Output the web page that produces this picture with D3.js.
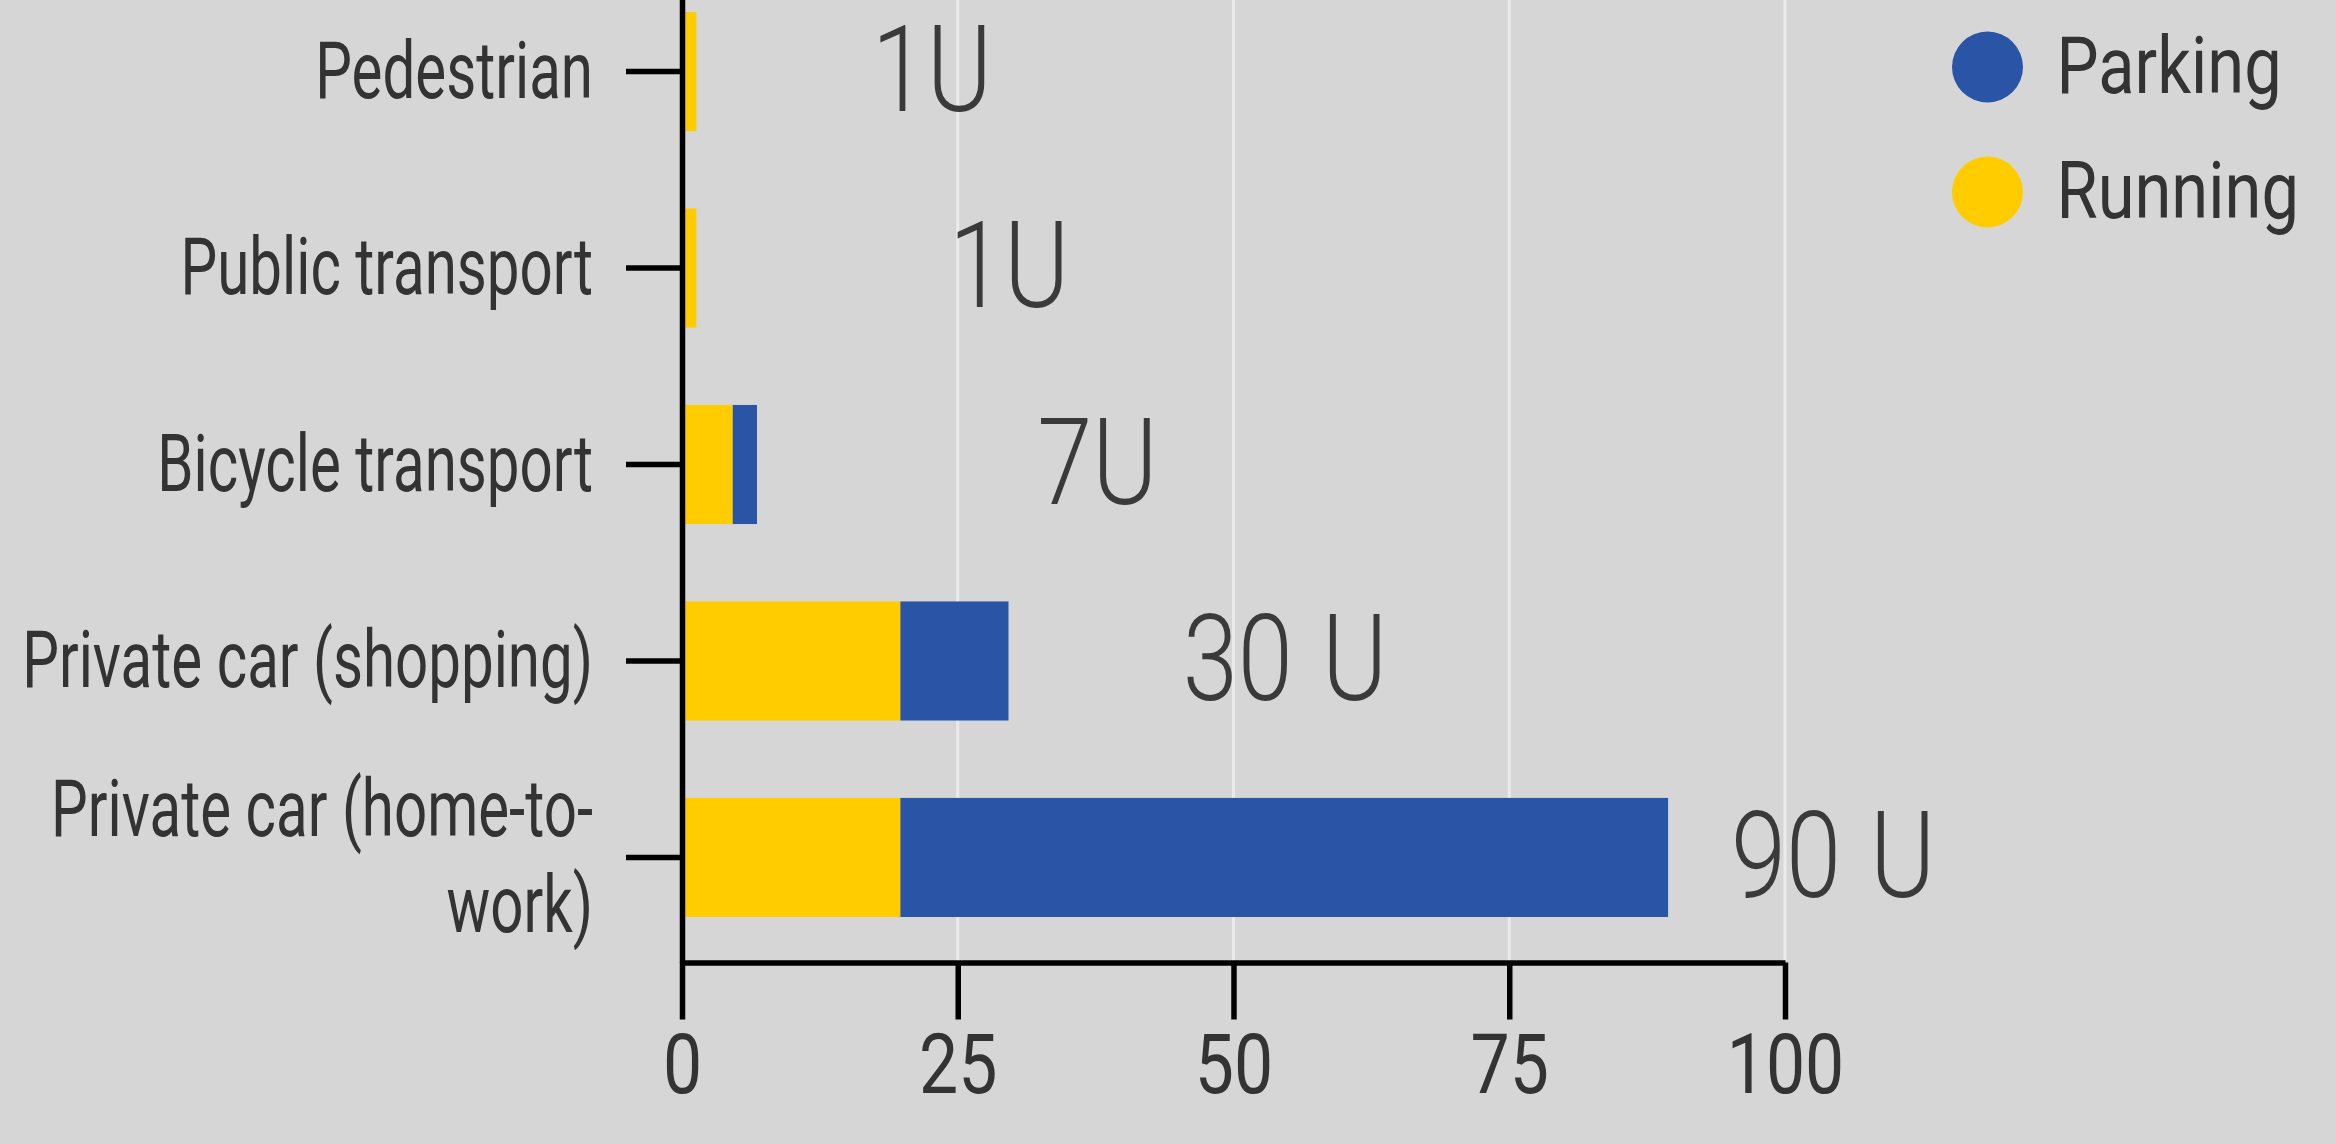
<!doctype html>
<html>
<head>
    <meta charset="UTF-8">
    <script src="https://d3js.org/d3.v7.min.js"></script>
    <title></title>
</head>

<body>

<style>
    body { margin: 0; background: #d6d6d6; }
    text { font-family: Roboto, "Liberation Sans", sans-serif; fill: #333333; }
</style>

<div id="graph"></div>

<script>
    // data
    var categories = ["Pedestrian", "Public transport", "Bicycle transport",
                      "Private car (shopping)", "Private car (home-to-work)"];
    var running = [1.3, 1.3, 4.6, 19.8, 19.8];
    var parking = [0, 0, 2.2, 9.8, 69.6];
    var totalLabels = ["1U", "1U", "7U", "30 U", "90 U"];
    var labelAt = [17.2, 24.2, 32.2, 45.4, 95.1];   // where the total label starts, in axis units
    var xTicks = [0, 25, 50, 75, 100];
    var seriesNames = ["Parking", "Running"];

    var w = 2336, h = 1144;
    var colors = {Parking: "#2a54a5", Running: "#ffcc00"};

    var vis = d3.select("#graph")
            .append("svg")
            .attr("width", w)
            .attr("height", h)
            .style("background-color", "#d6d6d6");

    var x = d3.scaleLinear().domain([0, 100]).range([682, 1785]);
    var y = d3.scaleBand().domain(categories)
            .range([-33.5, 962.5])
            .paddingInner(0.394)
            .paddingOuter(0.2316);

    // squeeze text horizontally to mimic a condensed face
    function squeeze(sel, sx) {
        sel.each(function() {
            var t = d3.select(this);
            var x0 = +t.attr("x") || 0;
            var y0 = +t.attr("y") || 0;
            t.attr("x", 0).attr("y", 0)
             .attr("transform", "translate(" + x0 + "," + y0 + ") scale(" + sx + ",1)");
        });
    }

    // grid
    vis.append("g").selectAll("line")
            .data(xTicks.filter(function(d) { return d > 0; }))
            .enter().append("line")
            .attr("x1", function(d) { return x(d); })
            .attr("x2", function(d) { return x(d); })
            .attr("y1", 0)
            .attr("y2", 962.5)
            .style("stroke", "#ebebeb")
            .style("stroke-width", 3);

    // stacked bars: running first, then parking
    var rows = categories.map(function(c, i) {
        return {cat: c, run: running[i], park: parking[i]};
    });

    var bars = vis.append("g");
    bars.selectAll(".run")
            .data(rows).enter().append("rect")
            .attr("x", x(0))
            .attr("y", function(d) { return y(d.cat); })
            .attr("width", function(d) { return x(d.run) - x(0); })
            .attr("height", y.bandwidth())
            .attr("fill", colors.Running);
    bars.selectAll(".park")
            .data(rows).enter().append("rect")
            .attr("x", function(d) { return x(d.run); })
            .attr("y", function(d) { return y(d.cat); })
            .attr("width", function(d) { return x(d.run + d.park) - x(d.run); })
            .attr("height", y.bandwidth())
            .attr("fill", colors.Parking);

    // total labels
    vis.append("g").selectAll("text")
            .data(rows).enter().append("text")
            .attr("x", function(d, i) { return x(labelAt[i]); })
            .attr("y", function(d) { return y(d.cat) + y.bandwidth() / 2 - 3; })
            .attr("dy", "0.35em")
            .style("font-size", "121px")
            .style("font-weight", 300)
            .style("fill", "#3a3a3a")
            .style("word-spacing", "6px")
            .text(function(d, i) { return totalLabels[i]; })
            .call(squeeze, 0.82);

    // y axis
    var yAxis = vis.append("g")
            .attr("transform", "translate(" + x(0) + ",0)")
            .call(d3.axisLeft(y).tickSize(56).tickPadding(33).tickSizeOuter(0));

    var sxY = 0.728, lineH = 1.2, maxW = 600;
    yAxis.selectAll(".tick text")
            .style("font-size", "80px")
            .style("fill", "#333")
            .each(function(label) {
                var t = d3.select(this);
                var words = label.split(/(?<=[\s-])/);
                t.text(null);
                var lines = [], cur = "";
                var probe = t.append("tspan");
                words.forEach(function(wd) {
                    var trial = cur + wd;
                    probe.text(trial.trim());
                    if (cur && probe.node().getComputedTextLength() * sxY > maxW) {
                        lines.push(cur.trim());
                        cur = wd;
                    } else {
                        cur = trial;
                    }
                });
                lines.push(cur.trim());
                probe.remove();
                var n = lines.length;
                t.attr("dy", null);
                lines.forEach(function(ln, k) {
                    t.append("tspan")
                     .attr("x", 0)
                     .attr("dy", (k === 0 ? 0.33 - (n - 1) / 2 * lineH : lineH) + "em")
                     .text(ln);
                });
            })
            .call(squeeze, sxY);

    // x axis
    var xAxis = vis.append("g")
            .attr("transform", "translate(0,962.5)")
            .call(d3.axisBottom(x).tickValues(xTicks).tickSize(57).tickPadding(14).tickSizeOuter(0));

    xAxis.selectAll(".tick text")
            .style("font-size", "84px")
            .style("fill", "#333")
            .call(squeeze, 0.83);

    vis.selectAll(".domain, .tick line")
            .style("stroke", "#000")
            .style("stroke-width", 5.5);

    // legend
    var legend = vis.append("g").selectAll("g")
            .data(seriesNames).enter().append("g")
            .attr("transform", function(d, i) { return "translate(1987.5," + (67 + i * 125) + ")"; });
    legend.append("circle")
            .attr("r", 35.5)
            .attr("fill", function(d) { return colors[d]; });
    legend.append("text")
            .attr("x", 69)
            .attr("dy", "0.33em")
            .style("font-size", "80px")
            .style("fill", "#333")
            .text(function(d) { return d; })
            .call(squeeze, 0.835);

</script>

</body>
</html>
